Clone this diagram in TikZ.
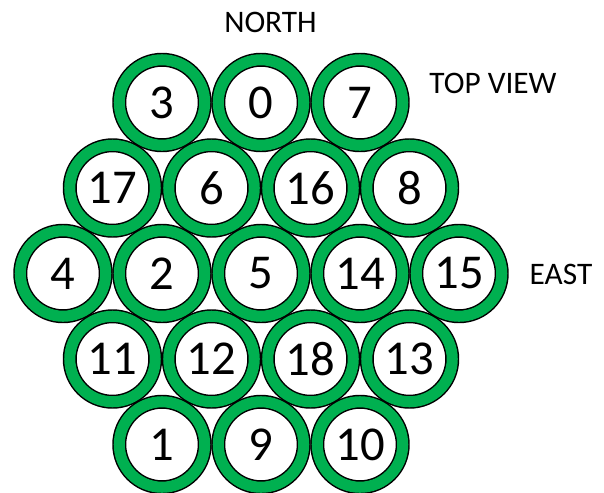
\documentclass[tikz,border=0pt]{standalone}
\usepackage{fontspec}
\setmainfont{Carlito}
\definecolor{tubegreen}{RGB}{0, 176, 80}
\usetikzlibrary{positioning}

\begin{document}
\begin{tikzpicture}[
  x=0.75pt, y=-0.75pt,
  tube/.style={circle, draw=black, line width=1.1pt, double=tubegreen, double distance=8.3pt, fill=white, inner sep=0pt, outer sep=0pt, minimum size=64.1pt, font=\fontsize{36.5}{36.5}\selectfont},
  lbl/.style={anchor=base, inner sep=0pt, font=\fontsize{23.5}{23.5}\selectfont}
]
  \useasboundingbox (0,0) rectangle (604,493);
  % row 1
  \node[tube] (t3)  at (162, 102.5) {3};
  \node[tube] (t0)  at (261, 102.5) {0};
  \node[tube] (t7)  at (360, 102.5) {7};
  % row 2
  \node[tube] (t17) at (112.5, 188) {17};
  \node[tube] (t6)  at (211.5, 188) {6};
  \node[tube] (t16) at (310.5, 188) {16};
  \node[tube] (t8)  at (409.5, 188) {8};
  % row 3
  \node[tube] (t4)  at (63, 273.5) {4};
  \node[tube] (t2)  at (162, 273.5) {2};
  \node[tube] (t5)  at (261, 273.5) {5};
  \node[tube] (t14) at (360, 273.5) {14};
  \node[tube] (t15) at (459, 273.5) {15};
  % row 4
  \node[tube] (t11) at (112.5, 359) {11};
  \node[tube] (t12) at (211.5, 359) {12};
  \node[tube] (t18) at (310.5, 359) {18};
  \node[tube] (t13) at (409.5, 359) {13};
  % row 5
  \node[tube] (t1)  at (162, 444.5) {1};
  \node[tube] (t9)  at (261, 444.5) {9};
  \node[tube] (t10) at (360, 444.5) {10};
  % labels
  \node[lbl] (north)   at (270.5, 32) {NORTH};
  \node[lbl] (topview) at (493, 93) {TOP VIEW};
  \node[lbl] (east)    at (561, 284) {EAST};
\end{tikzpicture}
\end{document}
